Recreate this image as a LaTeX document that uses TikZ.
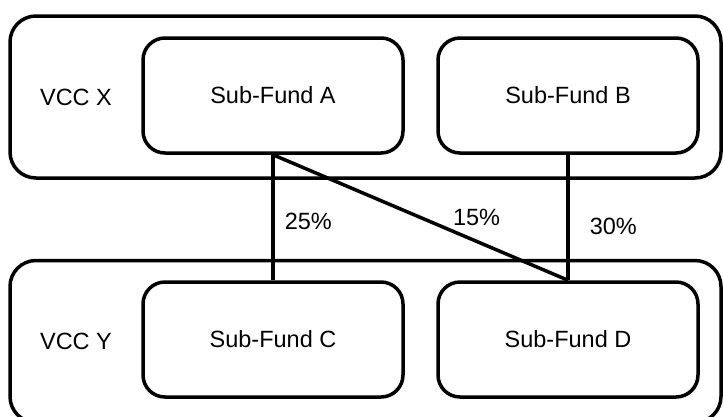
\documentclass[tikz,border=0pt]{standalone}
\usepackage{fontspec}
\setmainfont{Liberation Sans}
\usetikzlibrary{positioning}

\begin{document}
\begin{tikzpicture}[x=1pt,y=-1pt,
        font=\fontsize{23.5pt}{28pt}\selectfont,
        every path/.style={line width=3.5pt},
        vccbox/.style={draw, rounded corners=26pt, minimum width=711pt, minimum height=162pt},
        fundbox/.style={draw, rounded corners=22pt, minimum width=260pt, minimum height=115pt},
        share/.style={inner sep=0pt}]
            \useasboundingbox (0,0) rectangle (723,416);

            % Draw the two umbrella companies
            \node[vccbox] (vccX) at (365.5,97) {};
            \node[vccbox] (vccY) at (365.5,341.5) {};
            \node (labelX) at (76,97) {VCC X};
            \node (labelY) at (76,341) {VCC Y};

            % Draw the sub-funds
            \node[fundbox] (fundA) at (273,95.5) {Sub-Fund A};
            \node[fundbox] (fundB) at (568,95.5) {Sub-Fund B};
            \node[fundbox] (fundC) at (273,339.5) {Sub-Fund C};
            \node[fundbox] (fundD) at (568,339.5) {Sub-Fund D};

            % Draw the holdings
            \draw (fundA.south) -- node[share, pos=0.53, right=10pt] {25\%} (fundC.north);
            \draw (fundA.south) -- node[share, pos=0.69, above=14pt] {15\%} (fundD.north);
            \draw (fundB.south) -- node[share, pos=0.57, right=20pt] {30\%} (fundD.north);
        \end{tikzpicture}
\end{document}
